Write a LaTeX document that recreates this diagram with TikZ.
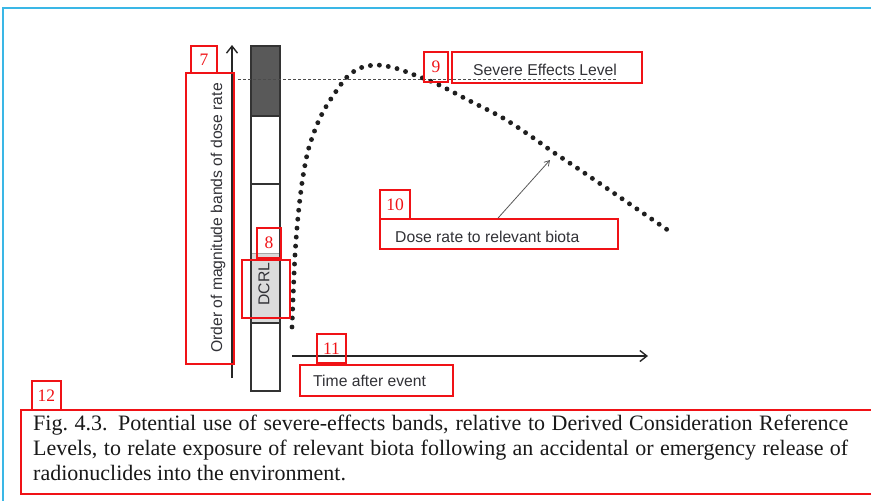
\documentclass[tikz,border=0pt]{standalone}
\usepackage{fontspec}
\setmainfont{Liberation Serif}
\newfontfamily\labelsf{Liberation Sans}
\usetikzlibrary{arrows.meta,fit,calc}
\definecolor{framecyan}{RGB}{58,183,230}
\definecolor{tagred}{RGB}{240,18,22}
\definecolor{inkgray}{RGB}{50,50,55}
\begin{document}
\begin{tikzpicture}[x=1pt,y=-1pt,
  redbox/.style={draw=tagred,line width=1.8pt,inner sep=0pt},
  tagbox/.style={redbox,text=tagred,font=\fontsize{17.5}{17.5}\selectfont},
  lbl/.style={font=\labelsf\fontsize{15.7}{18}\selectfont,text=inkgray,inner sep=0pt},
  capline/.style={font=\fontsize{22}{24.5}\selectfont,text=black!90,inner sep=0pt,anchor=base west},
  band/.style={draw=black!80,line width=1.1pt},
  axis/.style={draw=black!85,line width=1.6pt,-{Straight Barb[length=7pt,width=11pt,line width=1.4pt]}},
  dotcurve/.style={draw=black!88,line width=4.9pt,line cap=round,dash pattern=on 0pt off 9pt},
  pointer/.style={draw=black!65,line width=0.8pt,-{Straight Barb[length=5pt,width=6pt]}},
]
\useasboundingbox (0,0) rectangle (871,501);
\fill[white] (0,0) rectangle (871,501);

% outer frame
\draw[framecyan,line width=2pt] (3,520) -- (3,8) -- (890,8);

% order-of-magnitude bands
\fill[black!65] (251,46) rectangle (280,116);
\fill[black!14] (251,253) rectangle (280,323);
\draw[black!35,line width=0.6pt] (251,253) -- (280,253);
\draw[band] (251,46) rectangle (280,391);
\foreach \yy in {116,184,323} \draw[band] (251,\yy) -- (280,\yy);

% axes
\coordinate (ybot) at (232,378);
\coordinate (ytop) at (232,45);
\draw[axis] (ybot) -- (ytop);
\coordinate (tbeg) at (292,356);
\coordinate (tend) at (648,356);
\draw[axis] (tbeg) -- (tend);

% severe effects level
\coordinate (sel0) at (238,79);
\coordinate (sel1) at (617,79);
\draw[black!70,line width=0.9pt,dash pattern=on 3pt off 2pt] (sel0) -- (sel1);

% dose rate curve
\draw[dotcurve] plot[smooth,tension=0.55] coordinates {
  (292,327) (293,300) (295,255) (298,217) (302,183) (307,155) (312,138)
  (319,120) (327,105) (337,90) (347,77) (360,68) (377,65) (395,68)
  (412,74) (437,84) (470,101) (503,118) (532,137) (553,152) (583,172) (672,233)};

% labels
\node[lbl,rotate=90] (ylab) at (218,218) {Order of magnitude bands of dose rate};
\node[lbl,rotate=90] (dcrl) at (264,284) {DCRL};
\node[lbl,anchor=base west] (seltxt) at (473,75) {Severe Effects Level};
\node[lbl,anchor=base west] (dosetxt) at (395,242) {Dose rate to relevant biota};
\node[lbl,anchor=base west] (timetxt) at (313,386) {Time after event};

% numbered red boxes
\node[redbox,fit={(186,73) (234,364)}] (l7) {};
\node[tagbox,minimum width=26pt,minimum height=27pt] (t7) at (204,59.5) {7};
\node[redbox,fit={(242,260) (290,318)}] (l8) {};
\node[tagbox,minimum width=24pt,minimum height=30pt] (t8) at (269,243) {8};
\node[redbox,fit={(452,52) (642,83)}] (l9) {};
\node[tagbox,minimum width=24pt,minimum height=30pt] (t9) at (436,67) {9};
\node[redbox,fit={(380,219) (618,249)}] (l10) {};
\node[tagbox,minimum width=30pt,minimum height=29pt] (t10) at (395,204.5) {10};
\node[redbox,fit={(300,365) (453,396)}] (l11) {};
\node[tagbox,minimum width=29pt,minimum height=29pt] (t11) at (331.5,348.5) {11};
\node[redbox,fit={(21,410) (890,494)}] (l12) {};
\node[tagbox,minimum width=29pt,minimum height=29pt] (t12) at (46.5,395.5) {12};

% pointer to the curve
\coordinate (ptr) at (550,160);
\draw[pointer] ([xshift=-1pt]l10.north) -- (ptr);

% caption
\node[capline] (cap1) at (33,430) {\makebox[815pt][s]{Fig.\ 4.3. Potential use of severe-effects bands, relative to Derived Consideration Reference}};
\node[capline] (cap2) at (33,455) {\makebox[815pt][s]{Levels, to relate exposure of relevant biota following an accidental or emergency release of}};
\node[capline] (cap3) at (33,480) {radionuclides into the environment.};
\end{tikzpicture}
\end{document}
